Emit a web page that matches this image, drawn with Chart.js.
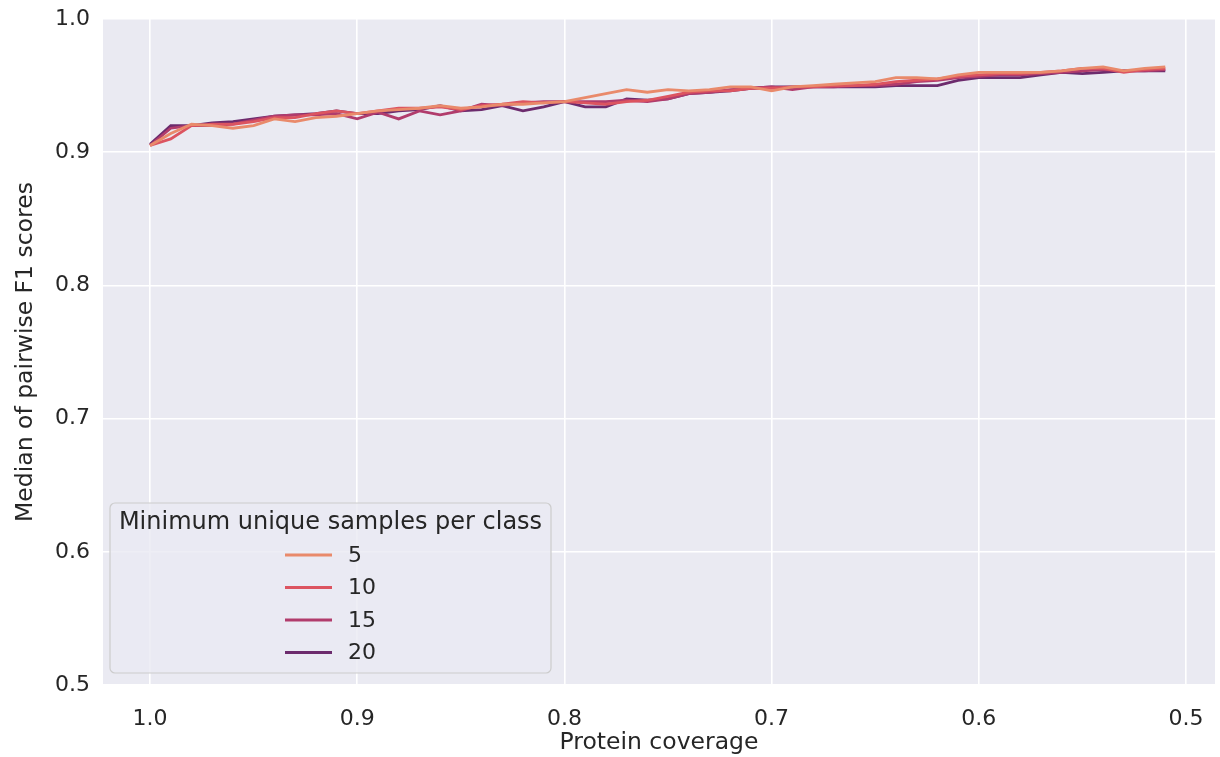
<!DOCTYPE html>
<html>
<head>
<meta charset="utf-8">
<script src="https://cdn.jsdelivr.net/npm/chart.js@4/dist/chart.umd.min.js"></script>
<style>
  html, body { margin: 0; padding: 0; background: #ffffff; }
  #wrap { width: 1220px; height: 757px; position: relative; }
</style>
</head>
<body>
<div id="wrap"><canvas id="myChart" width="1220" height="757"></canvas></div>
<script>
var coverage = [1.00, 0.99, 0.98, 0.97, 0.96, 0.95, 0.94, 0.93, 0.92, 0.91,
                0.90, 0.89, 0.88, 0.87, 0.86, 0.85, 0.84, 0.83, 0.82, 0.81,
                0.80, 0.79, 0.78, 0.77, 0.76, 0.75, 0.74, 0.73, 0.72, 0.71,
                0.70, 0.69, 0.68, 0.67, 0.66, 0.65, 0.64, 0.63, 0.62, 0.61,
                0.60, 0.59, 0.58, 0.57, 0.56, 0.55, 0.54, 0.53, 0.52, 0.51];
var min5 = [0.905, 0.914, 0.921, 0.920, 0.918, 0.920, 0.925, 0.923, 0.926, 0.927,
            0.929, 0.931, 0.932, 0.933, 0.935, 0.933, 0.934, 0.936, 0.936, 0.937,
            0.938, 0.941, 0.944, 0.947, 0.945, 0.947, 0.946, 0.947, 0.949, 0.949,
            0.946, 0.949, 0.950, 0.951, 0.952, 0.953, 0.956, 0.956, 0.955, 0.958,
            0.960, 0.960, 0.960, 0.960, 0.961, 0.963, 0.964, 0.961, 0.963, 0.964];
var min10 = [0.905, 0.910, 0.920, 0.921, 0.921, 0.923, 0.926, 0.926, 0.929, 0.931,
             0.929, 0.931, 0.933, 0.933, 0.934, 0.932, 0.935, 0.936, 0.938, 0.937,
             0.938, 0.937, 0.936, 0.938, 0.939, 0.942, 0.945, 0.946, 0.946, 0.948,
             0.948, 0.949, 0.949, 0.950, 0.950, 0.951, 0.953, 0.954, 0.955, 0.957,
             0.958, 0.959, 0.959, 0.960, 0.961, 0.963, 0.963, 0.960, 0.962, 0.963];
var min15 = [0.905, 0.918, 0.920, 0.920, 0.921, 0.924, 0.927, 0.928, 0.928, 0.929,
             0.925, 0.930, 0.925, 0.931, 0.928, 0.931, 0.936, 0.935, 0.937, 0.938,
             0.938, 0.938, 0.938, 0.939, 0.938, 0.940, 0.944, 0.945, 0.947, 0.948,
             0.949, 0.947, 0.949, 0.949, 0.950, 0.950, 0.951, 0.953, 0.954, 0.956,
             0.957, 0.958, 0.958, 0.959, 0.960, 0.961, 0.962, 0.961, 0.961, 0.962];
var min20 = [0.906, 0.920, 0.920, 0.922, 0.923, 0.925, 0.927, 0.928, 0.929, 0.931,
             0.929, 0.929, 0.931, 0.932, 0.935, 0.931, 0.932, 0.935, 0.931, 0.934,
             0.938, 0.934, 0.934, 0.940, 0.939, 0.940, 0.944, 0.945, 0.946, 0.948,
             0.949, 0.949, 0.949, 0.949, 0.949, 0.949, 0.950, 0.950, 0.950, 0.954,
             0.956, 0.956, 0.956, 0.958, 0.960, 0.959, 0.960, 0.961, 0.961, 0.961];
var seriesNames = ['5', '10', '15', '20'];
var seriesColors = ['#e98a6b', '#dc5460', '#b13c6c', '#6c2b6d'];
var xTicks = [1.0, 0.9, 0.8, 0.7, 0.6, 0.5];
var yTicks = [0.5, 0.6, 0.7, 0.8, 0.9, 1.0];
var legendTitle = 'Minimum unique samples per class';

var FONT = "'DejaVu Sans', sans-serif";
var TEXT = '#262626';

function points(vals) {
    var pts = [];
    for (var i = 0; i < vals.length; i++) {
        pts.push({ x: coverage[i], y: vals[i] });
    }
    return pts;
}

var allSeries = [min5, min10, min15, min20];
var datasets = [];
for (var i = 0; i < allSeries.length; i++) {
    datasets.push({
        label: seriesNames[i],
        data: points(allSeries[i]),
        borderColor: seriesColors[i],
        backgroundColor: seriesColors[i],
        borderWidth: 2.8,
        pointRadius: 0,
        tension: 0,
        fill: false
    });
}

// grey plot background
var plotBg = {
    id: 'plotBg',
    beforeDraw: function (chart) {
        var a = chart.chartArea, ctx = chart.ctx;
        ctx.save();
        ctx.fillStyle = '#eaeaf2';
        ctx.fillRect(a.left, a.top, a.right - a.left, a.bottom - a.top);
        ctx.restore();
    }
};

// legend box drawn inside the plot, lower left
var boxLegend = {
    id: 'boxLegend',
    afterDraw: function (chart) {
        var ctx = chart.ctx;
        var x0 = 110, y0 = 503, w = 441, h = 170, r = 5;
        ctx.save();
        ctx.beginPath();
        ctx.moveTo(x0 + r, y0);
        ctx.arcTo(x0 + w, y0, x0 + w, y0 + h, r);
        ctx.arcTo(x0 + w, y0 + h, x0, y0 + h, r);
        ctx.arcTo(x0, y0 + h, x0, y0, r);
        ctx.arcTo(x0, y0, x0 + w, y0, r);
        ctx.closePath();
        ctx.fillStyle = 'rgba(234,234,242,0.8)';
        ctx.fill();
        ctx.lineWidth = 1.2;
        ctx.strokeStyle = '#cccccc';
        ctx.stroke();

        ctx.fillStyle = TEXT;
        ctx.font = '24px ' + FONT;
        ctx.textAlign = 'center';
        ctx.textBaseline = 'middle';
        ctx.fillText(legendTitle, x0 + w / 2, 523);

        var ds = chart.data.datasets;
        for (var i = 0; i < ds.length; i++) {
            var yy = 555 + i * 32.5;
            ctx.strokeStyle = ds[i].borderColor;
            ctx.lineWidth = 2.8;
            ctx.beginPath();
            ctx.moveTo(285, yy);
            ctx.lineTo(332, yy);
            ctx.stroke();
            ctx.textAlign = 'left';
            ctx.fillStyle = TEXT;
            ctx.font = '22px ' + FONT;
            ctx.fillText(ds[i].label, 348, yy + 1);
        }
        ctx.restore();
    }
};

new Chart('myChart', {
    type: 'line',
    data: { datasets: datasets },
    plugins: [plotBg, boxLegend],
    options: {
        responsive: false,
        animation: false,
        layout: { padding: { top: 19, right: 5, left: 0, bottom: 0 } },
        plugins: {
            legend: { display: false },
            tooltip: { enabled: false }
        },
        scales: {
            x: {
                type: 'linear',
                reverse: true,
                min: 0.486,
                max: 1.0227,
                afterBuildTicks: function (scale) {
                    scale.ticks = xTicks.map(function (v) { return { value: v }; });
                },
                afterFit: function (scale) {
                    scale.height = 72;
                    scale.paddingLeft = 0;
                    scale.paddingRight = 0;
                },
                ticks: {
                    color: TEXT,
                    font: { family: FONT, size: 22 },
                    padding: 21,
                    maxRotation: 0,
                    callback: function (v) { return Number(v).toFixed(1); }
                },
                grid: { color: '#ffffff', lineWidth: 1.6, drawTicks: false },
                border: { display: false },
                title: {
                    display: true,
                    text: 'Protein coverage',
                    color: TEXT,
                    font: { family: FONT, size: 23.5 },
                    padding: { top: 4, bottom: 0 }
                }
            },
            y: {
                min: 0.5,
                max: 1.0,
                afterBuildTicks: function (scale) {
                    scale.ticks = yTicks.map(function (v) { return { value: v }; });
                },
                afterFit: function (scale) {
                    scale.width = 103;
                    scale.paddingTop = 0;
                    scale.paddingBottom = 0;
                },
                ticks: {
                    color: TEXT,
                    font: { family: FONT, size: 22 },
                    padding: 13,
                    callback: function (v) { return Number(v).toFixed(1); }
                },
                grid: { color: '#ffffff', lineWidth: 1.6, drawTicks: false },
                border: { display: false },
                title: {
                    display: true,
                    text: 'Median of pairwise F1 scores',
                    color: TEXT,
                    font: { family: FONT, size: 23.5 },
                    padding: { top: 12, bottom: 2 }
                }
            }
        }
    }
});
</script>
</body>
</html>
